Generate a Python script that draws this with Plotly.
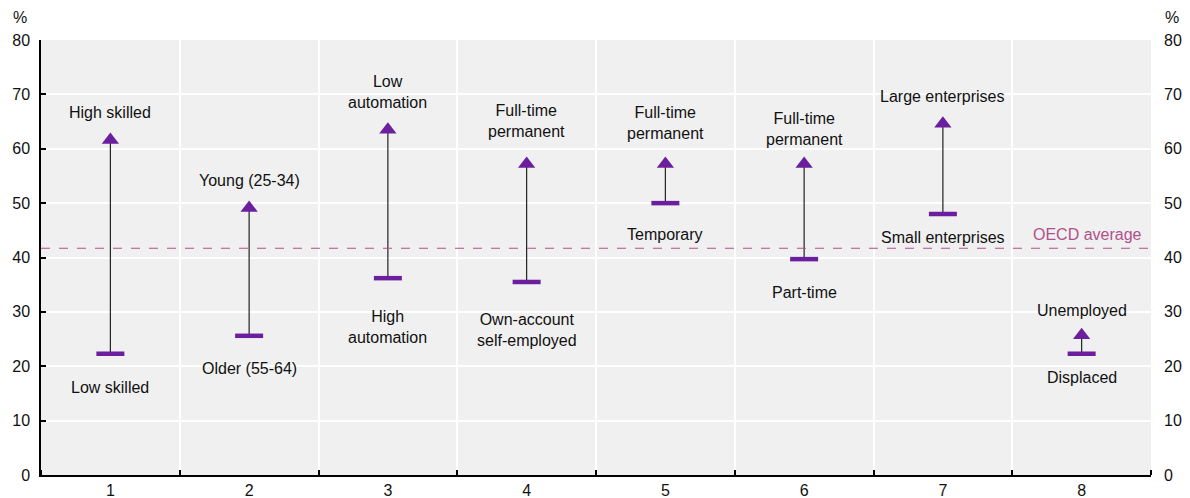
import plotly.graph_objects as go

# groups on the x axis
groups = [1, 2, 3, 4, 5, 6, 7, 8]
# share (%) for the lower and the higher category in each pair
low_values = [22.3, 25.6, 36.2, 35.5, 50.0, 39.7, 48.0, 22.3]
high_values = [61.6, 49.1, 63.5, 57.2, 57.2, 57.2, 64.6, 25.7]
low_labels = ["Low skilled", "Older (55-64)", "High<br>automation",
              "Own-account<br>self-employed", "Temporary", "Part-time",
              "Small enterprises", "Displaced"]
high_labels = ["High skilled", "Young (25-34)", "Low<br>automation",
               "Full-time<br>permanent", "Full-time<br>permanent",
               "Full-time<br>permanent", "Large enterprises", "Unemployed"]
oecd_average = 41.7

purple = "#6B1F9E"
avg_col = "#B0508A"
font = "Liberation Sans, Arial, sans-serif"
fsize = 16

fig = go.Figure()

# connecting lines low -> high
for g, lo, hi in zip(groups, low_values, high_values):
    fig.add_trace(go.Scatter(x=[g, g], y=[lo, hi], mode="lines",
                             line=dict(color="#222222", width=1.2),
                             hoverinfo="skip", showlegend=False))

fig.add_trace(go.Scatter(x=groups, y=low_values, mode="markers",
                         marker=dict(symbol="line-ew", size=20,
                                     line=dict(color=purple, width=4.5)),
                         showlegend=False))
fig.add_trace(go.Scatter(x=groups, y=high_values, mode="markers",
                         marker=dict(symbol="triangle-up", size=15, color=purple),
                         showlegend=False))

# invisible trace to carry the right-hand axis
fig.add_trace(go.Scatter(x=[groups[0]], y=[0], yaxis="y2", mode="markers",
                         marker=dict(opacity=0), hoverinfo="skip", showlegend=False))

fig.add_hline(y=oecd_average, line=dict(color=avg_col, width=1.2, dash="dash"))
fig.add_annotation(x=8.45, y=oecd_average, text="OECD average", showarrow=False,
                   xanchor="right", yanchor="bottom", yshift=3,
                   font=dict(color=avg_col, size=fsize, family=font))

# label offsets (px) above high markers / below low markers
high_shift = [17, 17, 17, 22, 20, 14, 17, 14]
low_shift = [-23, -22, -28, -27, -21, -23, -13, -13]
for g, lo, hi, lt, ht, ls, hs in zip(groups, low_values, high_values,
                                     low_labels, high_labels, low_shift, high_shift):
    fig.add_annotation(x=g, y=hi, text=ht, showarrow=False, yanchor="bottom",
                       yshift=hs, font=dict(size=fsize, color="#111111", family=font))
    fig.add_annotation(x=g, y=lo, text=lt, showarrow=False, yanchor="top",
                       yshift=ls, font=dict(size=fsize, color="#111111", family=font))

fig.add_annotation(x=0, y=1, xref="paper", yref="paper", text="%", showarrow=False,
                   xanchor="right", yanchor="bottom", xshift=-12, yshift=12,
                   font=dict(size=fsize, color="#111111", family=font))
fig.add_annotation(x=1, y=1, xref="paper", yref="paper", text="%", showarrow=False,
                   xanchor="left", yanchor="bottom", xshift=12, yshift=12,
                   font=dict(size=fsize, color="#111111", family=font))

yaxis_common = dict(range=[0, 80], tickvals=list(range(0, 81, 10)), automargin=False,
                    tickfont=dict(size=fsize, color="#111111", family=font))

# page body has an 8px margin, so the figure is a little smaller than the window
fig.update_layout(
    width=1182, height=490,
    margin=dict(l=33, r=39, t=32, b=23),
    paper_bgcolor="white", plot_bgcolor="#F0F0F0",
    font=dict(family=font),
    xaxis=dict(range=[0.5, 8.5], tickvals=groups, ticktext=[str(g) for g in groups],
               showgrid=False, ticks="", zeroline=False, automargin=False,
               showline=True, linecolor="black", linewidth=1.5,
               tickfont=dict(size=fsize, color="#111111", family=font),
               minor=dict(tick0=0.5, dtick=1, showgrid=True, gridcolor="white",
                          gridwidth=2, ticks="inside", ticklen=5,
                          tickcolor="black", tickwidth=1.5)),
    yaxis=dict(**yaxis_common, showgrid=True, gridcolor="white", gridwidth=2,
               zeroline=False, showline=True, linecolor="black", linewidth=1.5,
               ticks="inside", ticklen=5, tickcolor="black", tickwidth=1.5,
               ticklabelstandoff=6),
    yaxis2=dict(**yaxis_common, overlaying="y", side="right", showgrid=False,
                zeroline=False, showline=False, ticks="", ticklabelstandoff=12),
)

fig.write_html("out.html")
